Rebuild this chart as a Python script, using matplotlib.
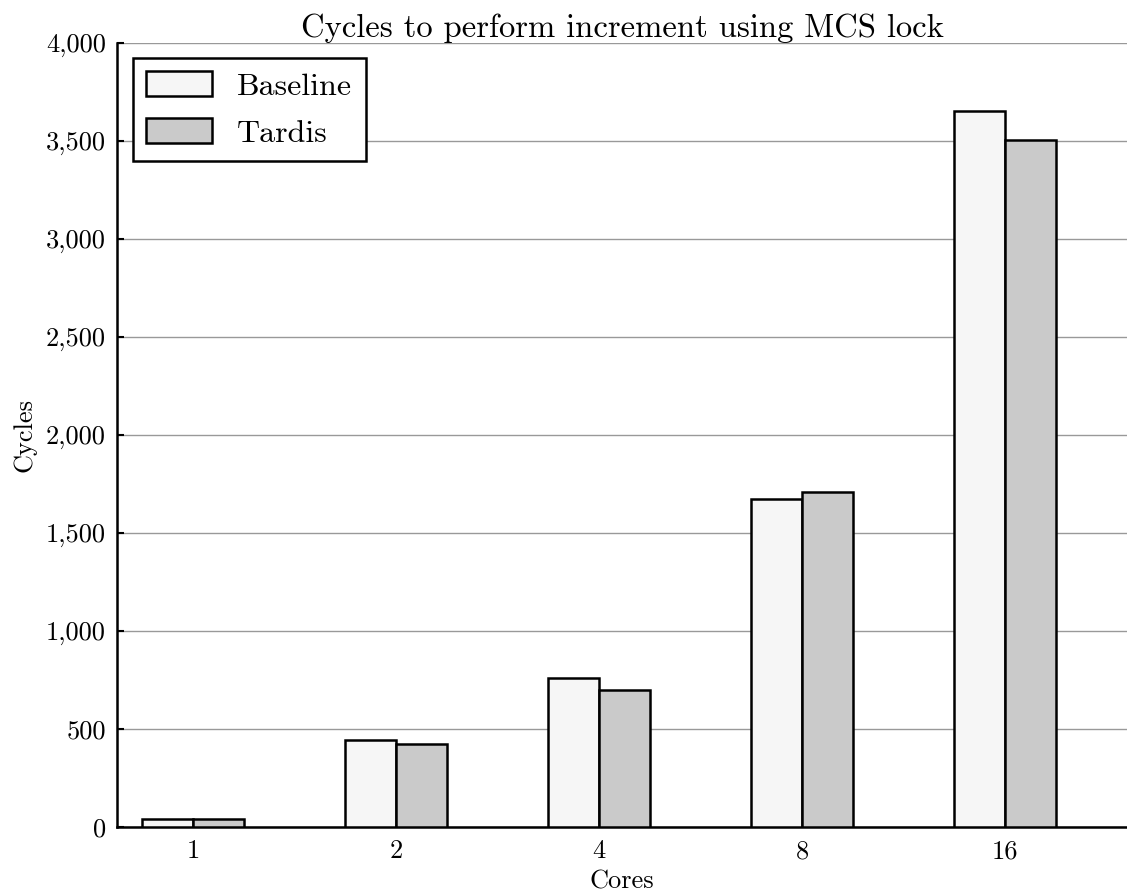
import matplotlib
matplotlib.use("Agg")
import matplotlib.pyplot as plt
from matplotlib.ticker import FuncFormatter
import numpy as np

plt.rcParams['font.family'] = 'serif'
plt.rcParams['font.serif'] = ['cmr10', 'DejaVu Serif']
plt.rcParams['axes.formatter.use_mathtext'] = True
plt.rcParams['mathtext.fontset'] = 'cm'

categories = ["1", "2", "4", "8", "16"]
baseline = [42, 442, 759, 1673, 3651]
tardis = [42, 425, 699, 1709, 3505]
yticks = [0, 500, 1000, 1500, 2000, 2500, 3000, 3500, 4000]

fig = plt.figure(figsize=(11.27, 8.96), dpi=100)
ax = fig.add_axes([117/1127, 1 - 827/896, (1127-117)/1127, (827-43)/896])

x = np.arange(len(categories))
w = 0.25
ax.bar(x - w/2, baseline, w, color='#f6f6f6', edgecolor='black', linewidth=1.8, label='Baseline', zorder=3)
ax.bar(x + w/2, tardis, w, color='#cacaca', edgecolor='black', linewidth=1.8, label='Tardis', zorder=3)

ax.set_xlim(-0.375, 4.6)
ax.set_ylim(0, 4000)
ax.set_yticks(yticks)
ax.yaxis.set_major_formatter(FuncFormatter(lambda v, p: f"{int(v):,}"))
ax.set_xticks(x)
ax.set_xticklabels(categories)
ax.tick_params(axis='x', length=0, labelsize=19, pad=9)
ax.tick_params(axis='y', direction='in', length=5, width=1.5, labelsize=19, pad=8)
ax.yaxis.grid(True, color='#999999', linewidth=1.0, zorder=0)
ax.set_axisbelow(True)

for s in ['top', 'right']:
    ax.spines[s].set_visible(False)
for s in ['left', 'bottom']:
    ax.spines[s].set_linewidth(1.8)

ax.set_title("Cycles to perform increment using MCS lock", fontsize=23.5, pad=3)
ax.set_xlabel("Cores", fontsize=19, labelpad=5)
ax.set_ylabel("Cycles", fontsize=19, labelpad=7)

leg = ax.legend(loc='upper left', bbox_to_anchor=(0.0155, 0.981), fontsize=23, frameon=True,
                fancybox=False, edgecolor='black', framealpha=1.0, handlelength=2.05, handleheight=0.8,
                borderpad=0.42, labelspacing=0.55, handletextpad=0.8, borderaxespad=0)
leg.get_frame().set_linewidth(1.8)

fig.savefig("out.png", dpi=100)
